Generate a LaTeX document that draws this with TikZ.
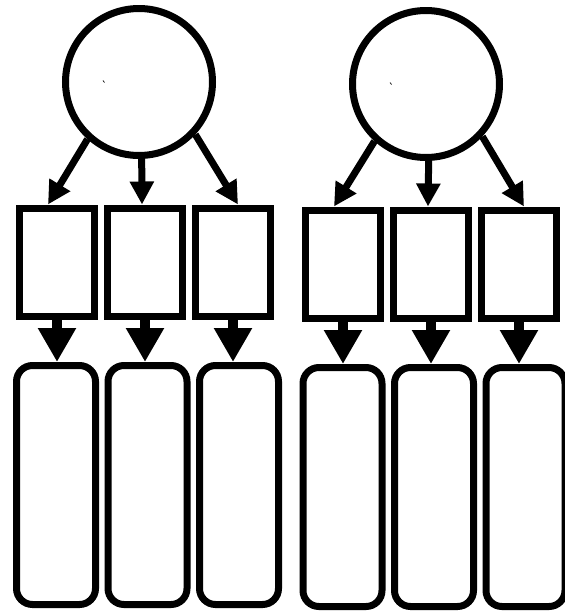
\documentclass[tikz,border=0pt]{standalone}
\usepackage{tikz}
\usetikzlibrary{arrows.meta}

\begin{document}
\begin{tikzpicture}[x=1pt,y=-1pt,
  unit/.style={draw,circle,line width=7pt,minimum size=147pt,inner sep=0pt},
  item/.style={draw,rectangle,line width=7pt,minimum width=75pt,minimum height=108pt,inner sep=0pt},
  slot/.style={draw,rectangle,rounded corners=16pt,line width=7pt,minimum width=79pt,minimum height=239pt,inner sep=0pt},
  thinarr/.style={line width=7pt,-{Triangle[length=23pt,width=23pt]}},
  fatarr/.style={line width=10pt,-{Triangle[length=34pt,width=36pt]}}]
\useasboundingbox (0,0) rectangle (565,611);
% two groups: one circle, three boxes, three tall slots each
\foreach \g/\cx/\cy/\bx/\by/\tx/\ty in {L/139/82/57/262/56/485,R/426/84/343/264/342.5/487}{%
  \node[unit] (\g c) at (\cx,\cy) {};
  \draw[line width=0.7pt] ({\cx-36},{\cy-1.5}) -- ++(1.5,2);
  \foreach \k/\dx/\ang in {1/-9/228,2/-3/272,3/5/317}{%
    \pgfmathsetmacro{\xb}{\bx+88*(\k-1)}%
    \pgfmathsetmacro{\xt}{\tx+91.5*(\k-1)}%
    \node[item] (\g b\k) at (\xb,\by) {};
    \node[slot] (\g s\k) at (\xt,\ty) {};
    \draw[thinarr] (\g c.\ang) -- ([xshift=\dx pt]\g b\k.north);
    \draw[fatarr] (\g b\k.south) -- (\g b\k.south |- \g s\k.north);}}
\end{tikzpicture}
\end{document}
